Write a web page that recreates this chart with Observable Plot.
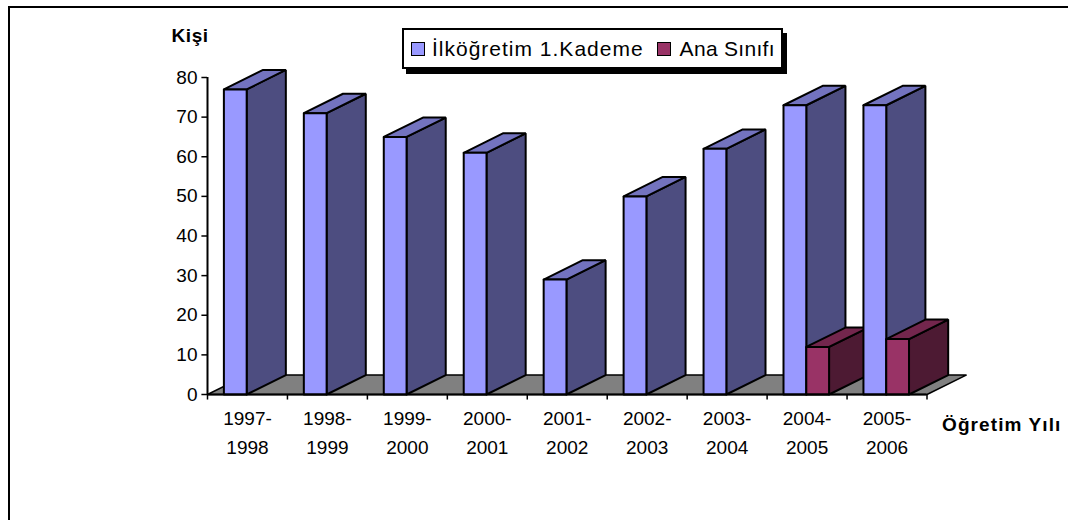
<!DOCTYPE html>
<html><head><meta charset="utf-8">
<script src="https://cdn.jsdelivr.net/npm/d3@7"></script>
<script src="https://cdn.jsdelivr.net/npm/@observablehq/plot@0.6"></script>
<style>
html,body{margin:0;padding:0;background:#fff;width:1068px;height:520px;overflow:hidden}
#wrap{position:relative;width:1068px;height:520px;font-family:"Liberation Sans",Arial,sans-serif;color:#000}
#frame{position:absolute;left:8px;top:6px;width:1100px;height:530px;border:2px solid #000;border-right:none;box-sizing:border-box}
#chart{position:absolute;left:0;top:0}
#legend{position:absolute;left:402px;top:28px;width:381px;height:41px;box-sizing:border-box;background:#fff;border:2px solid #000;box-shadow:4px 5px 0 #000;display:flex;align-items:center;font-size:21px;white-space:nowrap}
#legend i{display:block;width:14px;height:14px;box-sizing:border-box;border:1.5px solid #000;flex:none}
#legend i:nth-of-type(1){margin-left:7px;margin-right:7px}
#legend i:nth-of-type(2){margin-left:13px;margin-right:9px}
#legend span:nth-of-type(1){letter-spacing:1px}
#legend span:nth-of-type(2){letter-spacing:.3px}
.ls1{letter-spacing:1.1px}
.ls2{letter-spacing:.6px}
</style></head><body>
<div id="wrap"><div id="frame"></div><div id="chart"></div>
<div id="legend"></div></div>
<script>
const years = ["1997-\n1998","1998-\n1999","1999-\n2000","2000-\n2001","2001-\n2002","2002-\n2003","2003-\n2004","2004-\n2005","2005-\n2006"];
const ilkogretim = [77,71,65,61,29,50,62,73,73];
const anaSinifi = [null,null,null,null,null,null,null,12,14];
const yTicks = [0,10,20,30,40,50,60,70,80];
const seriesNames = ["İlköğretim 1.Kademe","Ana Sınıfı"];
const palette = {blue:["#9999ff","#7373bf","#4d4d80"],red:["#993366","#73264d","#4d1a33"]};

// oblique depth, in data units of the two scales
const depthX = 0.49, depthY = 4.9, barW = 0.285, bandOffset = 0.205;

const faces = [];
function box(id, x0, v, c){
  const x1 = x0 + barW;
  const poly = (name, fill, pts) => pts.forEach(([x,y]) => faces.push({id:id+name,fill,x,y}));
  const closed = a => [...a, a[0]];
  poly("side", c[2], closed([[x1,0],[x1+depthX,depthY],[x1+depthX,v+depthY],[x1,v]]));
  poly("top", c[1], closed([[x0,v],[x1,v],[x1+depthX,v+depthY],[x0+depthX,v+depthY]]));
  poly("front", c[0], closed([[x0,0],[x1,0],[x1,v],[x0,v]]));
}
years.forEach((_,i)=>{
  box("b"+i, i+bandOffset, ilkogretim[i], palette.blue);
  if(anaSinifi[i]!=null) box("r"+i, i+bandOffset+barW, anaSinifi[i], palette.red);
});
const n = years.length;
const floor = [[0,0],[n,0],[n+depthX,depthY],[depthX,depthY],[0,0]].map(([x,y])=>({x,y}));
const xTicks = d3.range(n+1);

const plot = Plot.plot({
  width:1068,height:520,
  marginLeft:207,marginRight:1068-926.5,marginTop:77,marginBottom:520-394,
  style:{background:"transparent",fontFamily:"'Liberation Sans',Arial,sans-serif",overflow:"visible"},
  x:{type:"linear",domain:[0,n],axis:null},
  y:{type:"linear",domain:[0,80],axis:null},
  marks:[
    Plot.line(floor,{x:"x",y:"y",fill:"#808080",stroke:"#000",strokeWidth:1.5}),
    Plot.line(faces,{x:"x",y:"y",z:"id",fill:"fill",stroke:"#000",strokeWidth:2,strokeLinejoin:"miter"}),
    Plot.ruleX([0],{y1:0,y2:80,stroke:"#000",strokeWidth:2}),
    Plot.ruleY([0],{x1:0,x2:n,stroke:"#000",strokeWidth:2}),
    Plot.ruleY(yTicks,{y:d=>d,x1:-0.07,x2:0,stroke:"#000",strokeWidth:1.5}),
    Plot.ruleX(xTicks,{x:d=>d,y1:0,y2:-1.4,stroke:"#000",strokeWidth:1.5}),
    Plot.text(yTicks,{x:0,y:d=>d,text:d=>String(d),textAnchor:"end",dx:-10,fontSize:19,fill:"#000"}),
    Plot.text(years,{x:(d,i)=>i+0.5,y:0,text:d=>d,dy:36,lineHeight:1.5,fontSize:19,fill:"#000"}),
    Plot.text(["Kişi"],{x:0,y:80,text:d=>d,dx:-36,dy:-42,textAnchor:"start",fontWeight:"bold",fontSize:19,fill:"#000",className:"ls2"}),
    Plot.text(["Öğretim Yılı"],{x:n,y:0,text:d=>d,dx:15,dy:30,textAnchor:"start",fontWeight:"bold",fontSize:19,fill:"#000",className:"ls1"})
  ]
});
document.getElementById("chart").append(plot);
const leg=document.getElementById("legend");
[[seriesNames[0],palette.blue[0]],[seriesNames[1],palette.red[0]]].forEach(([t,c])=>{
  const i=document.createElement("i");i.style.background=c;const s=document.createElement("span");s.textContent=t;leg.append(i,s);
});
</script></body></html>
